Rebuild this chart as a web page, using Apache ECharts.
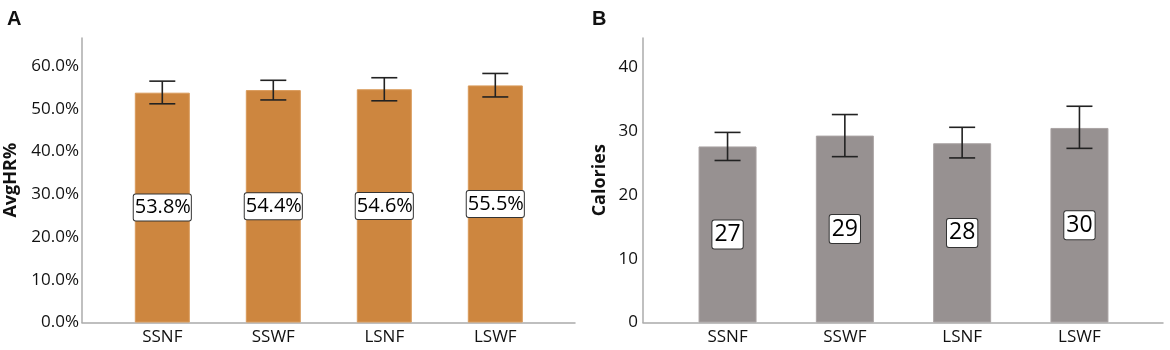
<!DOCTYPE html>
<html>
<head>
<meta charset="utf-8">
<script src="https://cdn.jsdelivr.net/npm/echarts@6/dist/echarts.min.js"></script>
<style>
  html, body { margin: 0; padding: 0; background: #fff; }
  #chart { width: 1170px; height: 350px; }
</style>
</head>
<body>
<div id="chart"></div>
<script>
// ---- data ----
const categories = ['SSNF', 'SSWF', 'LSNF', 'LSWF'];

const hrMean = [53.8, 54.4, 54.6, 55.5];
const hrLow  = [51.2, 52.1, 51.9, 52.8];
const hrHigh = [56.5, 56.7, 57.3, 58.3];

const calMean   = [27.6, 29.3, 28.1, 30.5];
const calLow    = [25.4, 26.0, 25.8, 27.3];
const calHigh   = [29.8, 32.6, 30.6, 33.9];
const calLabels = ['27', '29', '28', '30'];

const hrAxisMax = 66.6;
const calAxisMax = 44.6;
const panelLetters = ['A', 'B'];

// ---- styling ----
const FONT = 'Open Sans';
const AXIS_COLOR = '#ababab';
const TEXT_COLOR = '#111';
const ORANGE = '#cd863f';
const GRAY = '#979191';

function errorBarSeries(xi, yi, low, high) {
  return {
    type: 'custom',
    xAxisIndex: xi,
    yAxisIndex: yi,
    z: 5,
    silent: true,
    data: low.map((l, i) => [i, l, high[i]]),
    renderItem: function (params, api) {
      const x = api.value(0);
      const pLo = api.coord([x, api.value(1)]);
      const pHi = api.coord([x, api.value(2)]);
      const half = 13;
      const st = { stroke: '#222', lineWidth: 1.6 };
      return {
        type: 'group',
        children: [
          { type: 'line', shape: { x1: pLo[0], y1: pLo[1], x2: pHi[0], y2: pHi[1] }, style: st },
          { type: 'line', shape: { x1: pHi[0] - half, y1: pHi[1], x2: pHi[0] + half, y2: pHi[1] }, style: st },
          { type: 'line', shape: { x1: pLo[0] - half, y1: pLo[1], x2: pLo[0] + half, y2: pLo[1] }, style: st }
        ]
      };
    }
  };
}

const frameX = (gi) => ({
  gridIndex: gi, type: 'value', min: 0, max: 1,
  axisLine: { show: true, lineStyle: { color: AXIS_COLOR, width: 1.5 } },
  axisTick: { show: false }, axisLabel: { show: false }, splitLine: { show: false }
});
const catX = (gi) => ({
  gridIndex: gi, type: 'category', data: categories,
  axisLine: { show: false }, axisTick: { show: false },
  axisLabel: { fontSize: 17, color: TEXT_COLOR, fontFamily: FONT, margin: 6 }
});

const option = {
  animation: false,
  backgroundColor: '#fff',
  title: [
    { text: panelLetters[0], left: 2, top: 4, textStyle: { fontSize: 20, fontWeight: 'bold', color: '#111', fontFamily: 'Liberation Sans' } },
    { text: panelLetters[1], left: 587, top: 4, textStyle: { fontSize: 20, fontWeight: 'bold', color: '#111', fontFamily: 'Liberation Sans' } }
  ],
  grid: [
    { left: 82, top: 38, width: 493, bottom: 27.5 },
    { left: 106.8, top: 38, width: 444, bottom: 27.5 },
    { left: 643, top: 38, width: 520, bottom: 27.5 },
    { left: 668.9, top: 38, width: 469.2, bottom: 27.5 }
  ],
  xAxis: [frameX(0), catX(1), frameX(2), catX(3)],
  yAxis: [
    {
      gridIndex: 0, type: 'value', min: 0, max: hrAxisMax, interval: 10,
      axisLine: { show: true, lineStyle: { color: AXIS_COLOR, width: 1.5 } },
      axisTick: { show: false }, splitLine: { show: false },
      axisLabel: {
        fontSize: 17, color: TEXT_COLOR, fontFamily: FONT, margin: 3,
        formatter: v => (Math.abs(v % 10) < 1e-6 ? v.toFixed(1) + '%' : '')
      },
      name: 'AvgHR%', nameLocation: 'middle', nameGap: 62,
      nameTextStyle: { fontSize: 18, fontWeight: 'bold', color: TEXT_COLOR, fontFamily: FONT }
    },
    { gridIndex: 1, type: 'value', min: 0, max: hrAxisMax, show: false },
    {
      gridIndex: 2, type: 'value', min: 0, max: calAxisMax, interval: 10,
      axisLine: { show: true, lineStyle: { color: AXIS_COLOR, width: 1.5 } },
      axisTick: { show: false }, splitLine: { show: false },
      axisLabel: {
        fontSize: 17, color: TEXT_COLOR, fontFamily: FONT, margin: 5,
        formatter: v => (Math.abs(v % 10) < 1e-6 ? String(v) : '')
      },
      name: 'Calories', nameLocation: 'middle', nameGap: 34,
      nameTextStyle: { fontSize: 18, fontWeight: 'bold', color: TEXT_COLOR, fontFamily: FONT }
    },
    { gridIndex: 3, type: 'value', min: 0, max: calAxisMax, show: false }
  ],
  series: [
    {
      type: 'bar', xAxisIndex: 1, yAxisIndex: 1, data: hrMean, barWidth: 55,
      itemStyle: { color: ORANGE, borderColor: '#d99a5a', borderWidth: 1 },
      label: {
        show: true, position: 'inside',
        formatter: p => p.value.toFixed(1) + '%',
        fontSize: 20, fontFamily: FONT, color: '#000', lineHeight: 22,
        backgroundColor: '#fff', borderColor: '#333', borderWidth: 1, borderRadius: 2,
        padding: [2, 0, 2, 1]
      }
    },
    errorBarSeries(1, 1, hrLow, hrHigh),
    {
      type: 'bar', xAxisIndex: 3, yAxisIndex: 3, data: calMean, barWidth: 58,
      itemStyle: { color: GRAY, borderColor: '#a9a3a3', borderWidth: 1 },
      label: {
        show: true, position: 'inside',
        formatter: p => calLabels[p.dataIndex],
        fontSize: 23, fontFamily: FONT, color: '#000', lineHeight: 24,
        backgroundColor: '#fff', borderColor: '#333', borderWidth: 1, borderRadius: 2,
        padding: [2, 2, 2, 2]
      }
    },
    errorBarSeries(3, 3, calLow, calHigh)
  ]
};

const chart = echarts.init(document.getElementById('chart'), null, { renderer: 'canvas' });
chart.setOption(option);
</script>
</body>
</html>
